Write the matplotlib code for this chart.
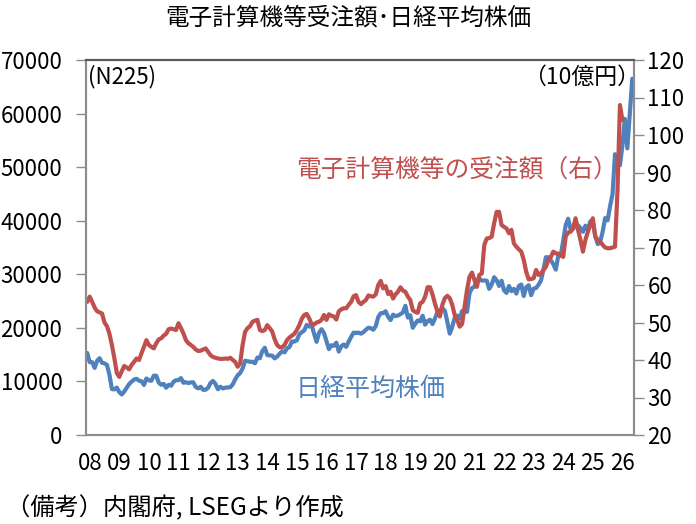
import matplotlib
matplotlib.use("Agg")
import matplotlib.pyplot as plt
import numpy as np

plt.rcParams['font.family'] = ['Noto Sans CJK JP', 'DejaVu Sans']

title = "電子計算機等受注額･日経平均株価"
year_labels = ["08", "09", "10", "11", "12", "13", "14", "15", "16", "17",
               "18", "19", "20", "21", "22", "23", "24", "25", "26"]

# Nikkei 225, monthly from Dec 2007 (left axis)
nikkei = [15308,
    13592, 13603, 12525, 13849, 14338, 13481, 13376, 13072, 11259, 8576, 8512, 8859,
    7994, 7568, 8109, 8828, 9522, 9958, 10356, 10492, 10133, 10034, 9345, 10546,
    10198, 10126, 11089, 11057, 9768, 9382, 9537, 8824, 9369, 9202, 9937, 10228,
    10237, 10624, 9755, 9849, 9693, 9816, 9833, 8955, 8700, 8988, 8434, 8455,
    8802, 9723, 10083, 9520, 8542, 9006, 8695, 8839, 8870, 8928, 9446, 10395,
    11138, 11559, 12397, 13860, 13774, 13677, 13668, 13388, 14455, 14327, 15661, 16291,
    14914, 14841, 14828, 14304, 14632, 15162, 15621, 15425, 16174, 16414, 17459, 17451,
    17674, 18797, 19207, 19520, 20563, 20236, 20585, 18890, 17388, 19083, 19747, 19034,
    17518, 16027, 16759, 16666, 17235, 15576, 16569, 16887, 16450, 17425, 18308, 19114,
    19041, 19119, 18909, 19197, 19651, 20033, 19925, 19646, 20356, 22012, 22725, 22765,
    23098, 22068, 21454, 22468, 22202, 22305, 22554, 22865, 24120, 21920, 22351, 20015,
    20773, 21385, 21206, 22259, 20601, 21276, 21522, 20704, 21756, 22927, 23294, 23657,
    23205, 21143, 18917, 20194, 21878, 22288, 21710, 23140, 23185, 22977, 26434, 27444,
    27663, 28966, 29179, 28813, 28860, 28792, 27284, 28090, 29453, 28893, 27822, 28792,
    27002, 26527, 27821, 26848, 27280, 26393, 27802, 28092, 25937, 27587, 27969, 26095,
    27327, 27446, 28041, 28856, 30888, 33189, 33172, 32619, 31858, 30859, 33487, 33464,
    36287, 39166, 40369, 38406, 38488, 39583, 39102, 38648, 37920, 39081, 38208, 39895,
    39572, 37156, 35618, 36045, 37965, 40487, 40071, 42718, 44932, 52411, 50254, 50339,
    54000, 59000, 53500, 60000, 66500]

# Computer orders (10 billion yen), monthly from Dec 2007 (right axis)
orders = [55.5, 56.9, 55.5, 54.0, 53.0, 52.7, 52.4, 50.0, 49.0, 47.0, 44.0, 40.5,
    36.5, 35.5, 37.0, 38.4, 38.0, 37.5, 38.7, 39.5, 40.4, 40.0, 41.8, 43.5,
    45.3, 44.0, 43.5, 43.1, 44.5, 45.5, 45.8, 46.5, 47.0, 48.2, 48.4, 48.2,
    48.0, 49.8, 48.5, 47.1, 45.3, 44.5, 44.0, 43.5, 42.8, 42.4, 42.5, 42.8,
    43.1, 42.2, 41.3, 40.8, 40.6, 40.4, 40.3, 40.3, 40.4, 40.3, 40.6, 40.0,
    39.5, 38.2, 39.1, 44.0, 47.5, 48.5, 49.0, 50.2, 50.5, 50.7, 48.0, 47.7,
    48.0, 49.3, 48.5, 47.6, 45.5, 44.0, 43.4, 43.4, 44.0, 45.3, 46.0, 46.5,
    47.0, 48.0, 49.3, 51.0, 52.0, 52.3, 51.1, 49.5, 49.5, 50.0, 50.2, 50.7,
    52.0, 50.7, 52.2, 51.8, 51.6, 50.8, 53.0, 53.5, 53.8, 53.8, 54.7, 55.5,
    57.0, 57.3, 55.5, 54.9, 55.5, 56.0, 57.2, 57.0, 56.9, 57.5, 60.0, 61.1,
    59.1, 59.7, 57.6, 58.2, 56.4, 57.5, 58.2, 59.4, 58.5, 58.2, 56.9, 56.0,
    53.3, 52.8, 52.6, 55.1, 55.5, 56.9, 59.4, 59.4, 57.5, 55.0, 52.9, 51.6,
    54.7, 56.5, 57.1, 56.5, 54.7, 52.0, 50.7, 48.9, 49.6, 54.2, 58.7, 62.2,
    63.3, 61.3, 59.5, 62.7, 63.1, 70.7, 72.4, 72.5, 72.9, 76.5, 79.5, 79.5,
    76.0, 75.5, 75.1, 73.8, 74.7, 71.1, 70.2, 69.5, 68.9, 66.7, 63.5, 61.5,
    61.6, 61.8, 64.0, 62.7, 63.1, 64.0, 64.9, 66.7, 67.5, 68.9, 68.4, 68.4,
    68.0, 67.5, 72.9, 74.0, 74.2, 75.1, 77.8, 74.7, 72.0, 68.9, 72.0, 74.2,
    76.0, 77.8, 72.9, 72.0, 71.5, 70.7, 70.0, 69.8, 69.8, 70.0, 70.2, 85.0,
    108.0, 104.0]

BLUE = "#4F81BD"
RED = "#C0504D"
SPINE = "#8C8C8C"

fig = plt.figure(figsize=(6.96, 5.24), dpi=100)
ax = fig.add_axes([86/696, 1 - 435/524, (633.5 - 86)/696, (435 - 60)/524])
ax2 = ax.twinx()

x_n = np.arange(len(nikkei))
x_o = np.arange(len(orders))
ax.plot(x_n, nikkei, color=BLUE, lw=3.0, solid_joinstyle='round', solid_capstyle='round')
ax2.plot(x_o, orders, color=RED, lw=3.0, solid_joinstyle='round', solid_capstyle='round')

n_cat = 222
ax.set_xlim(-0.5, n_cat - 0.5)
ax.set_ylim(0, 70000)
ax.set_yticks(np.arange(0, 70001, 10000))
ax2.set_ylim(20, 120)
ax2.set_yticks(np.arange(20, 121, 10))

ax.set_xticks([1 + 12 * k for k in range(len(year_labels))])
ax.set_xticklabels(year_labels)
ax.tick_params(axis='x', length=0, pad=12, labelsize=16)
ax.tick_params(axis='y', length=7, width=1, color=SPINE, pad=10, labelsize=16)
ax2.tick_params(axis='y', length=7, width=1, color=SPINE, pad=3, labelsize=16)

for a in (ax, ax2):
    for name in ['left', 'right', 'bottom']:
        a.spines[name].set_color(SPINE)
        a.spines[name].set_linewidth(1.5)
    a.spines['top'].set_color('#595959')
    a.spines['top'].set_linewidth(1.5)

fig.text(348/696, 1 - 18/524, title, ha='center', va='center', fontsize=17)
ax.text(0.003, 0.955, "(N225)", transform=ax.transAxes, ha='left', va='center', fontsize=16)
ax.text(1.012, 0.955, "（10億円）", transform=ax.transAxes, ha='right', va='center', fontsize=16.5)
fig.text(296/696, 1 - 170/524, "電子計算機等の受注額（右）",
         ha='left', va='center', fontsize=17.8, color=RED)
fig.text(296/696, 1 - 389/524, "日経平均株価",
         ha='left', va='center', fontsize=18, color=BLUE)
fig.text(6/696, 1 - 508/524, "（備考）内閣府, LSEGより作成", ha='left', va='center', fontsize=17.5)

fig.savefig("out.png", dpi=100)
